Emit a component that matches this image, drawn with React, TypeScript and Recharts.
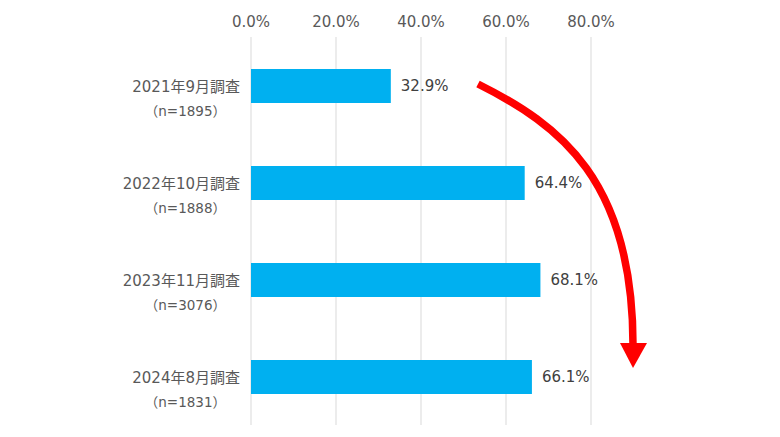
import { BarChart, Bar, XAxis, YAxis, CartesianGrid, LabelList } from "recharts";

const surveys = ["2021年9月調査", "2022年10月調査", "2023年11月調査", "2024年8月調査"];
const sampleSizes = ["（n=1895）", "（n=1888）", "（n=3076）", "（n=1831）"];
const rates = [32.9, 64.4, 68.1, 66.1];
const xTicks = [0, 20, 40, 60, 80];

const data = surveys.map((name, i) => ({ name, n: sampleSizes[i], rate: rates[i] }));

const FONT = '"DejaVu Sans", "Noto Sans CJK JP", sans-serif';
const pct = (v: number) => `${Number(v).toFixed(1)}%`;

function SurveyTick(props: any) {
    const { x, y, payload } = props;
    const row = data.find((d) => d.name === payload.value);
    return (
        <g>
            <text x={x} y={y + 6} textAnchor="end" fill="#595959" fontSize={15} fontFamily={FONT}>
                {payload.value}
            </text>
            <text x={x - 14} y={y + 30} textAnchor="end" fill="#595959" fontSize={13.5} fontFamily={FONT}>
                {row ? row.n : ""}
            </text>
        </g>
    );
}

export default function App() {
    return (
        <div style={{ position: "absolute", left: 0, top: 0, width: 780, height: 437, background: "#fff" }}>
            <BarChart
                width={780}
                height={437}
                data={data}
                layout="vertical"
                margin={{ top: 7, right: 189, bottom: 12, left: 0 }}
            >
                <CartesianGrid horizontal={false} stroke="#d9d9d9" />
                <XAxis
                    type="number"
                    orientation="top"
                    domain={[0, 80]}
                    ticks={xTicks}
                    tickFormatter={pct}
                    axisLine={false}
                    tickLine={false}
                    tickSize={0}
                    tickMargin={10}
                    height={30}
                    tick={{ fill: "#595959", fontSize: 15, fontFamily: FONT }}
                />
                <YAxis
                    type="category"
                    dataKey="name"
                    width={251}
                    axisLine={false}
                    tickLine={false}
                    tickSize={0}
                    tickMargin={11}
                    tick={<SurveyTick />}
                />
                <Bar dataKey="rate" fill="#00B0F0" barSize={34} isAnimationActive={false}>
                    <LabelList
                        dataKey="rate"
                        position="right"
                        offset={10}
                        formatter={(v: any) => pct(v)}
                        fill="#404040"
                        fontSize={15}
                        fontFamily={FONT}
                    />
                </Bar>
            </BarChart>
            <svg
                width={780}
                height={437}
                style={{ position: "absolute", left: 0, top: 0, pointerEvents: "none" }}
            >
                <path d="M478,84 C560,125 633,180 633,345" fill="none" stroke="#FF0000" strokeWidth={7.5} />
                <polygon points="620,343 647,343 633,368" fill="#FF0000" />
            </svg>
        </div>
    );
}
